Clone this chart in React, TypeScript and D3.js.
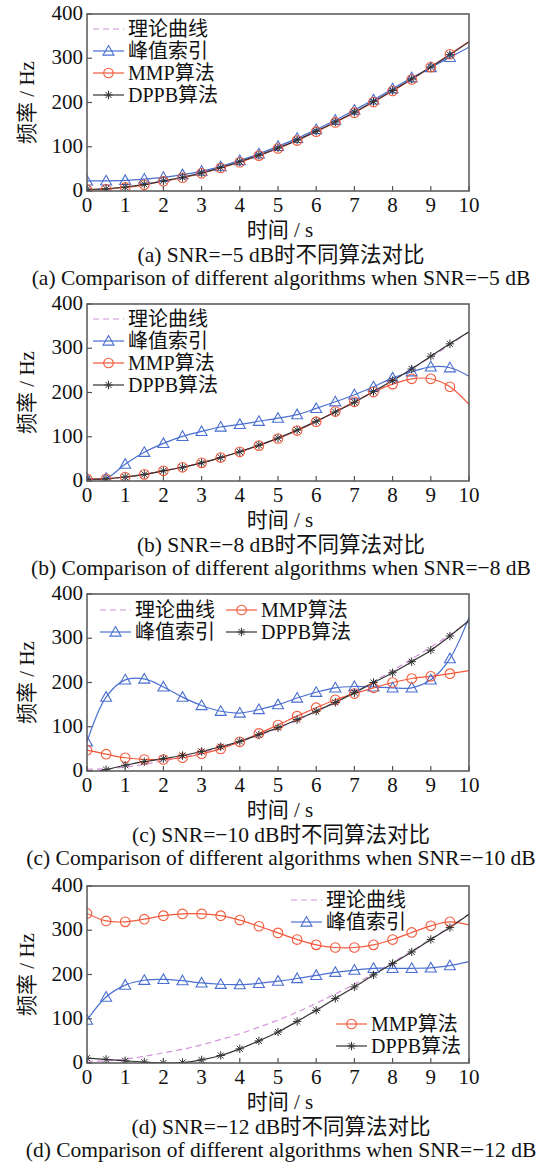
import React from "react";
import * as d3 from "d3";

const T = [0, 0.5, 1, 1.5, 2, 2.5, 3, 3.5, 4, 4.5, 5, 5.5, 6, 6.5, 7, 7.5, 8, 8.5, 9, 9.5, 10];
const xTicks = [0, 1, 2, 3, 4, 5, 6, 7, 8, 9, 10];
const yTicks = [0, 100, 200, 300, 400];

const theory = [4, 5, 9, 15, 23, 31, 41, 53, 66, 81, 97, 115, 135, 156, 178, 202, 227, 253, 280, 308, 337];

const peakA = [23, 23, 24, 27, 31, 37, 45, 55, 69, 84, 101, 119, 139, 160, 183, 206, 231, 256, 279, 302, 325];
const mmpA = [3, 4, 8, 14, 22, 30, 40, 52, 65, 80, 96, 114, 134, 155, 177, 201, 226, 252, 280, 309, 338];
const dppbA = [4, 5, 9, 15, 23, 31, 41, 53, 66, 81, 97, 115, 135, 156, 178, 202, 227, 253, 280, 308, 337];

const peakB = [5, 6, 38, 65, 85, 101, 112, 122, 128, 135, 142, 150, 164, 179, 195, 213, 233, 247, 258, 256, 237];
const mmpB = [5, 5, 9, 15, 23, 31, 41, 53, 66, 80, 96, 114, 134, 157, 179, 201, 219, 231, 231, 213, 173];
const dppbB = [4, 5, 9, 15, 23, 31, 41, 53, 66, 81, 97, 115, 135, 156, 178, 202, 227, 253, 282, 310, 337];

const peakC = [66, 167, 206, 208, 190, 167, 148, 135, 131, 139, 150, 165, 178, 188, 191, 190, 188, 188, 206, 254, 347];
const mmpC = [47, 38, 30, 26, 26, 30, 39, 50, 66, 85, 104, 124, 143, 161, 175, 188, 200, 209, 214, 220, 227];
const dppbC = [-8, 3, 13, 21, 28, 35, 44, 55, 67, 82, 98, 116, 135, 155, 177, 200, 222, 247, 273, 305, 340];

const peakD = [97, 149, 176, 187, 189, 186, 181, 178, 177, 180, 185, 191, 198, 205, 210, 214, 214, 214, 215, 220, 229];
const mmpD = [338, 321, 319, 325, 333, 337, 337, 333, 323, 309, 294, 279, 267, 261, 261, 267, 279, 295, 310, 319, 312];
const dppbD = [11, 8, 5, 2, 0, 1, 7, 17, 32, 50, 70, 94, 119, 146, 172, 199, 225, 251, 279, 306, 336];

const seriesNames = ["理论曲线", "峰值索引", "MMP算法", "DPPB算法"];
const captions = [
  ["(a) SNR=−5 dB时不同算法对比", "(a) Comparison of different algorithms when SNR=−5 dB"],
  ["(b) SNR=−8 dB时不同算法对比", "(b) Comparison of different algorithms when SNR=−8 dB"],
  ["(c) SNR=−10 dB时不同算法对比", "(c) Comparison of different algorithms when SNR=−10 dB"],
  ["(d) SNR=−12 dB时不同算法对比", "(d) Comparison of different algorithms when SNR=−12 dB"],
];

const COLORS = ["#d291d8", "#4a6fd0", "#f4583a", "#333333"];
const FONT = "'Liberation Serif', 'Noto Sans CJK SC', serif";

const LEFT = 87;
const RIGHT = 469;
const PH = 177;
const TOPS = [14, 304, 594, 886];

function Marker({ kind, x, y, color }: { kind: number; x: number; y: number; color: string }) {
  if (kind === 1) {
    const s = 5.5;
    return (
      <path
        d={`M${x},${y - s} L${x + s},${y + s * 0.75} L${x - s},${y + s * 0.75} Z`}
        fill="none"
        stroke={color}
        strokeWidth={1.1}
      />
    );
  }
  if (kind === 2) {
    return <circle cx={x} cy={y} r={4.8} fill="none" stroke={color} strokeWidth={1.1} />;
  }
  if (kind === 3) {
    const s = 4.2;
    const d = s * 0.72;
    return (
      <g stroke={color} strokeWidth={1}>
        <line x1={x - s} y1={y} x2={x + s} y2={y} />
        <line x1={x} y1={y - s} x2={x} y2={y + s} />
        <line x1={x - d} y1={y - d} x2={x + d} y2={y + d} />
        <line x1={x - d} y1={y + d} x2={x + d} y2={y - d} />
      </g>
    );
  }
  return null;
}

type LegendItem = { idx: number; x: number; y: number };

function Panel({
  top,
  idx,
  data,
  legend,
}: {
  top: number;
  idx: number;
  data: number[][];
  legend: LegendItem[];
}) {
  const x = d3.scaleLinear().domain([0, 10]).range([LEFT, RIGHT]);
  const y = d3.scaleLinear().domain([0, 400]).range([top + PH, top]);
  const line = d3
    .line<number>()
    .x((_, i) => x(T[i]))
    .y((v) => y(v))
    .curve(d3.curveCatmullRom.alpha(0.5));
  const clipId = `clip${idx}`;
  const order = [0, 1, 2, 3];
  return (
    <g>
      <defs>
        <clipPath id={clipId}>
          <rect x={LEFT} y={top} width={RIGHT - LEFT} height={PH} />
        </clipPath>
      </defs>
      <g clipPath={`url(#${clipId})`}>
        {order.map((s) => (
          <path
            key={s}
            d={line(data[s]) || ""}
            fill="none"
            stroke={COLORS[s]}
            strokeWidth={1.2}
            strokeDasharray={s === 0 ? "6,4" : undefined}
          />
        ))}
        {[1, 2, 3].map((s) =>
          data[s].map((v, i) =>
            i < T.length - 1 ? <Marker key={`${s}-${i}`} kind={s} x={x(T[i])} y={y(v)} color={COLORS[s]} /> : null
          )
        )}
      </g>
      <rect x={LEFT} y={top} width={RIGHT - LEFT} height={PH} fill="none" stroke="#555" strokeWidth={1.5} />
      {xTicks.map((t) => (
        <g key={`xt${t}`}>
          <line x1={x(t)} x2={x(t)} y1={top + PH} y2={top + PH - 5} stroke="#555" strokeWidth={1.2} />
          <text x={x(t)} y={top + PH + 21} textAnchor="middle" fontSize={21} fontFamily={FONT} fill="#111">
            {t}
          </text>
        </g>
      ))}
      {yTicks.map((t) => (
        <g key={`yt${t}`}>
          <line x1={LEFT} x2={LEFT + 5} y1={y(t)} y2={y(t)} stroke="#555" strokeWidth={1.2} />
          <text x={LEFT - 4} y={y(t) + 6} textAnchor="end" fontSize={21} fontFamily={FONT} fill="#111">
            {t}
          </text>
        </g>
      ))}
      <text
        transform={`translate(34,${top + PH / 2}) rotate(-90)`}
        textAnchor="middle"
        fontSize={21}
        fontFamily={FONT}
        fill="#111"
      >
        频率 / Hz
      </text>
      <text x={(LEFT + RIGHT) / 2 + 2} y={top + PH + 46} textAnchor="middle" fontSize={21} fontFamily={FONT} fill="#111">
        时间 / s
      </text>
      <text x={281} y={top + PH + 71} textAnchor="middle" fontSize={21.5} fontFamily={FONT} fill="#111">
        {captions[idx][0]}
      </text>
      <text x={281} y={top + PH + 94} textAnchor="middle" fontSize={21.5} fontFamily={FONT} fill="#111">
        {captions[idx][1]}
      </text>
      {legend.map((l) => (
        <g key={`lg${l.idx}`}>
          <line
            x1={l.x}
            x2={l.x + 31}
            y1={l.y}
            y2={l.y}
            stroke={COLORS[l.idx]}
            strokeWidth={1.2}
            strokeDasharray={l.idx === 0 ? "6,4" : undefined}
          />
          <Marker kind={l.idx} x={l.x + 15.5} y={l.y} color={COLORS[l.idx]} />
          <text x={l.x + 35} y={l.y + 7} fontSize={20} fontFamily={FONT} fill="#111">
            {seriesNames[l.idx]}
          </text>
        </g>
      ))}
    </g>
  );
}

export default function App() {
  const panels = [
    { data: [theory, peakA, mmpA, dppbA] },
    { data: [theory, peakB, mmpB, dppbB] },
    { data: [theory, peakC, mmpC, dppbC] },
    { data: [theory, peakD, mmpD, dppbD] },
  ];
  const legends: LegendItem[][] = [
    [
      { idx: 0, x: 93, y: TOPS[0] + 15 },
      { idx: 1, x: 93, y: TOPS[0] + 37 },
      { idx: 2, x: 93, y: TOPS[0] + 59 },
      { idx: 3, x: 93, y: TOPS[0] + 81 },
    ],
    [
      { idx: 0, x: 93, y: TOPS[1] + 15 },
      { idx: 1, x: 93, y: TOPS[1] + 37 },
      { idx: 2, x: 93, y: TOPS[1] + 59 },
      { idx: 3, x: 93, y: TOPS[1] + 81 },
    ],
    [
      { idx: 0, x: 100, y: TOPS[2] + 16 },
      { idx: 1, x: 100, y: TOPS[2] + 38 },
      { idx: 2, x: 226, y: TOPS[2] + 16 },
      { idx: 3, x: 226, y: TOPS[2] + 38 },
    ],
    [
      { idx: 0, x: 291, y: TOPS[3] + 14 },
      { idx: 1, x: 291, y: TOPS[3] + 36 },
      { idx: 2, x: 336, y: TOPS[3] + 138 },
      { idx: 3, x: 336, y: TOPS[3] + 160 },
    ],
  ];
  return (
    <div style={{ position: "absolute", left: 0, top: 0 }}>
      <svg width={536} height={1163} style={{ display: "block", background: "white" }}>
        {panels.map((p, i) => (
          <Panel key={i} idx={i} top={TOPS[i]} data={p.data} legend={legends[i]} />
        ))}
      </svg>
    </div>
  );
}
